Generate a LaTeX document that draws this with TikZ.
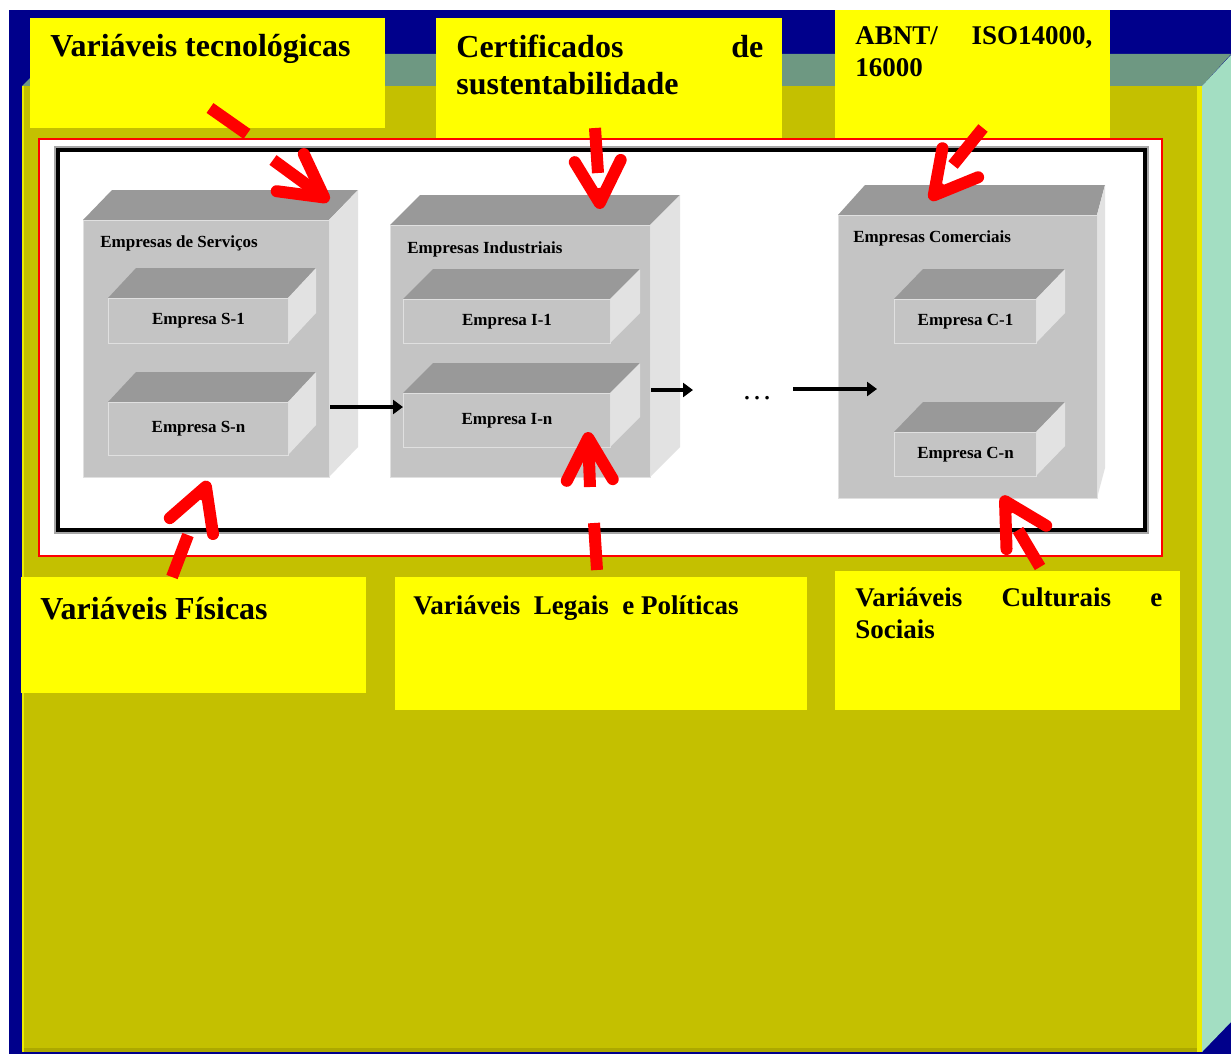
\documentclass[tikz,border=0pt]{standalone}
\usepackage{fontspec}
\setmainfont{Liberation Serif}
\usetikzlibrary{arrows.meta}

\newlength{\du}
\setlength{\du}{0.5pt}

\definecolor{marinho}{RGB}{0,0,139}
\definecolor{oliva}{RGB}{196,192,0}
\definecolor{olivaesc}{RGB}{172,168,0}
\definecolor{chanfro}{RGB}{110,152,130}
\definecolor{menta}{RGB}{163,222,194}
\definecolor{amarelo}{RGB}{255,255,0}
\definecolor{amarelovivo}{RGB}{236,236,0}
\definecolor{faceF}{RGB}{196,196,196}
\definecolor{faceT}{RGB}{153,153,153}
\definecolor{faceR}{RGB}{226,226,226}

\tikzset{
  caixaamarela/.style={fill=amarelo, inner sep=0pt, anchor=north west},
  textogrande/.style={font=\fontsize{16pt}{18.5pt}\selectfont\bfseries, inner sep=0pt, anchor=base west, align=left},
  textomedio/.style={font=\fontsize{13.5pt}{16pt}\selectfont\bfseries, inner sep=0pt, anchor=base west, align=left},
  frente/.style={fill=faceF, draw=black!12, line width=0.5pt, inner sep=0pt, anchor=north west, font=\fontsize{8.5pt}{10pt}\selectfont\bfseries},
  rotulo/.style={font=\fontsize{8.5pt}{10pt}\selectfont\bfseries, inner sep=0pt, anchor=base west},
  topo/.style={fill=faceT},
  lado/.style={fill=faceR},
  fluxo/.style={line width=2pt, -{Triangle[length=5pt,width=7pt]}},
  haste/.style={red, line width=6pt},
  ponta/.style={red, line width=6pt, -{Straight Barb[round, length=21pt, width=23pt]}},
  reticencias/.style={font=\fontsize{15pt}{17pt}\selectfont, inner sep=0pt},
}

% caixa 3D: nome, x, y, largura, altura, recuo esq., recuo dir., texto
\newcommand{\caixa}[8]{%
  \pgfmathsetmacro{\cxA}{#2+#4}%
  \pgfmathsetmacro{\cyA}{#3+#5}%
  \pgfmathsetmacro{\cxB}{#2+#6}%
  \pgfmathsetmacro{\cxC}{#2+#4+#7}%
  \pgfmathsetmacro{\cyB}{#3-30}%
  \pgfmathsetmacro{\cyC}{#3+#5-30}%
  \fill[topo] (#2\du,#3\du)--(\cxB\du,\cyB\du)--(\cxC\du,\cyB\du)--(\cxA\du,#3\du)--cycle;
  \fill[lado] (\cxA\du,#3\du)--(\cxC\du,\cyB\du)--(\cxC\du,\cyC\du)--(\cxA\du,\cyA\du)--cycle;
  \node[frente, minimum width=#4\du, minimum height=#5\du] (#1) at (#2\du,#3\du) {#8};
}

\begin{document}
\begin{tikzpicture}
\pgftransformxscale{1.000000}
\pgftransformyscale{-1.000000}
\useasboundingbox (0\du,0\du) rectangle (1231\du,1054\du);
% fundo
\fill[white] (0\du,0\du) rectangle (1231\du,1054\du);
\fill[marinho] (9\du,10\du) rectangle (1231\du,1054\du);
\fill[chanfro] (22\du,86\du)--(55\du,54\du)--(1231\du,54\du)--(1202\du,86\du)--cycle;
\fill[menta] (1202\du,86\du)--(1231\du,55\du)--(1231\du,1022\du)--(1202\du,1052\du)--cycle;
\fill[oliva] (22\du,86\du) rectangle (1202\du,1052\du);
\fill[amarelovivo] (1197\du,86\du) rectangle (1202\du,1052\du);
\fill[amarelovivo] (22\du,86\du) rectangle (24\du,1052\du);
\fill[olivaesc] (24\du,1048\du) rectangle (1197\du,1052\du);
% quadro das empresas
\draw[red, fill=white, line width=0.75pt] (39\du,139\du) rectangle (1162\du,556\du);
\draw[black!35, line width=0.75pt] (55\du,147\du) rectangle (1148\du,533\du);
\draw[black, line width=2pt] (58\du,150\du) rectangle (1145\du,530\du);
% empresas
\caixa{serv}{83}{220}{246}{257}{29}{29}{}
\node[rotulo] (rotServ) at (100\du,247\du) {Empresas de Serviços};
\caixa{sv1}{108}{298}{180}{45}{28}{28}{Empresa S-1}
\caixa{svn}{108}{402}{180}{53}{28}{28}{Empresa S-n}
\caixa{ind}{390}{225}{260}{252}{30}{30}{}
\node[rotulo] (rotInd) at (407\du,253\du) {Empresas Industriais};
\caixa{in1}{403}{299}{207}{44}{30}{30}{Empresa I-1}
\caixa{inn}{403}{393}{207}{54}{30}{30}{Empresa I-n}
\caixa{com}{838}{215}{259}{283}{27}{8}{}
\node[rotulo] (rotCom) at (853\du,242\du) {Empresas Comerciais};
\caixa{cm1}{894}{299}{142}{44}{29}{29}{Empresa C-1}
\caixa{cmn}{894}{432}{142}{44}{29}{29}{Empresa C-n}
% fluxo entre as empresas
\coordinate (f1) at (0\du,407\du);
\coordinate (f2fim) at (693\du,390\du);
\coordinate (f3ini) at (793\du,389\du);
\coordinate (f3fim) at (877\du,389\du);
\draw[fluxo] (serv.east |- f1) -- (inn.west |- f1);
\draw[fluxo] (ind.east |- f2fim) -- (f2fim);
\node[reticencias] (pontos) at (757\du,398\du) {\dots};
\draw[fluxo] (f3ini) -- (f3fim);
% variaveis
\node[caixaamarela, minimum width=355\du, minimum height=110\du] (varTec) at (30\du,18\du) {};
\node[textogrande] (txtTec) at (50\du,57\du) {Variáveis tecnológicas};
\node[caixaamarela, minimum width=346\du, minimum height=120\du] (varCert) at (436\du,18\du) {};
\node[textogrande, text width=307\du] (txtCert) at (456\du,58\du) {Certificados\hfill de\\sustentabilidade};
\node[caixaamarela, minimum width=275\du, minimum height=128\du] (varAbnt) at (835\du,10\du) {};
\node[textomedio, text width=237\du] (txtAbnt) at (855\du,45\du) {ABNT/\hfill ISO14000,\\16000};
\node[caixaamarela, minimum width=345\du, minimum height=116\du] (varFis) at (21\du,577\du) {};
\node[textogrande] (txtFis) at (40\du,619\du) {Variáveis Físicas};
\node[caixaamarela, minimum width=412\du, minimum height=133\du] (varLeg) at (395\du,577\du) {};
\node[textomedio] (txtLeg) at (413\du,614\du) {Variáveis~ Legais~ e Políticas};
\node[caixaamarela, minimum width=345\du, minimum height=139\du] (varCul) at (835\du,571\du) {};
\node[textomedio, text width=307\du] (txtCul) at (855\du,606\du) {Variáveis\hfill Culturais\hfill e\\Sociais};
% setas vermelhas
\coordinate (tecA) at (210\du,108\du);
\coordinate (tecB) at (247\du,134\du);
\coordinate (tecC) at (273\du,160\du);
\coordinate (tecD) at (329\du,201\du);
\draw[haste] (tecA) -- (tecB);
\draw[ponta] (tecC) -- (tecD);
\coordinate (certA) at (595\du,128\du);
\coordinate (certB) at (598\du,173\du);
\coordinate (certC) at (599\du,188\du);
\coordinate (certD) at (600\du,209\du);
\draw[haste] (certA) -- (certB);
\draw[ponta] (certC) -- (certD);
\coordinate (abntA) at (983\du,128\du);
\coordinate (abntB) at (953\du,165\du);
\coordinate (abntC) at (943\du,184\du);
\coordinate (abntD) at (930\du,200\du);
\draw[haste] (abntA) -- (abntB);
\draw[ponta] (abntC) -- (abntD);
\coordinate (fisA) at (172\du,577\du);
\coordinate (fisB) at (188\du,535\du);
\coordinate (fisC) at (201\du,500\du);
\coordinate (fisD) at (208\du,481\du);
\draw[haste] (fisA) -- (fisB);
\draw[ponta] (fisC) -- (fisD);
\coordinate (legA) at (597\du,570\du);
\coordinate (legB) at (594\du,523\du);
\coordinate (legC) at (590\du,487\du);
\coordinate (legD) at (588\du,432\du);
\draw[haste] (legA) -- (legB);
\draw[ponta] (legC) -- (legD);
\coordinate (culA) at (1040\du,567\du);
\coordinate (culB) at (1018\du,530\du);
\coordinate (culC) at (1012\du,513\du);
\coordinate (culD) at (1002\du,496\du);
\draw[haste] (culA) -- (culB);
\draw[ponta] (culC) -- (culD);
\end{tikzpicture}
\end{document}
